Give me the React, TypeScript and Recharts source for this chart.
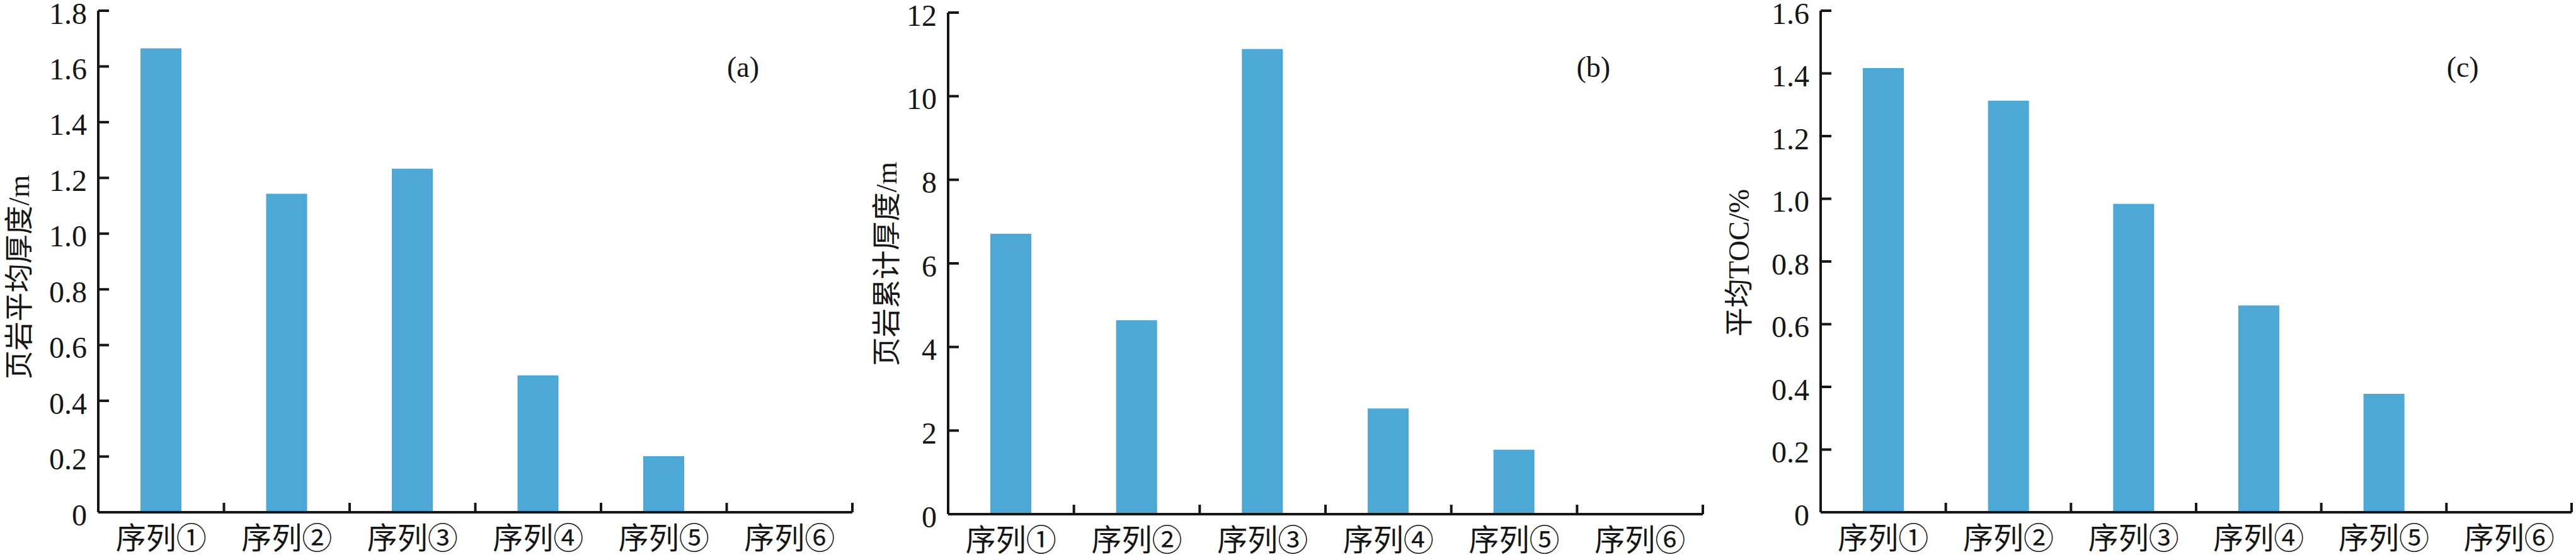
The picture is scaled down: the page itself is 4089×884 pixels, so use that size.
import React from 'react';
import { BarChart, Bar, XAxis, YAxis, ReferenceLine } from 'recharts';

const categories = ['序列①', '序列②', '序列③', '序列④', '序列⑤', '序列⑥'];

const avgThickness = [1.665, 1.143, 1.233, 0.491, 0.201, 0];
const totalThickness = [6.71, 4.64, 11.13, 2.53, 1.54, 0];
const avgToc = [1.417, 1.313, 0.984, 0.66, 0.378, 0];

const ticksA = [0, 0.2, 0.4, 0.6, 0.8, 1.0, 1.2, 1.4, 1.6, 1.8];
const ticksB = [0, 2, 4, 6, 8, 10, 12];
const ticksC = [0, 0.2, 0.4, 0.6, 0.8, 1.0, 1.2, 1.4, 1.6];

const SERIF = "'Liberation Serif', 'Times New Roman', serif";
const CJK = "'Liberation Serif', 'Noto Sans CJK SC', serif";
const BLUE = '#4ea8d5';
const INK = '#161616';
const FS = 48;

const fmtDec = (v: number) => (v === 0 ? '0' : v.toFixed(1));
const fmtInt = (v: number) => String(v);

const YTitle = ({ text, cx, cy }: { text: string; cx: number; cy: number }) => (
  <text
    x={cx}
    y={cy}
    transform={`rotate(-90, ${cx}, ${cy})`}
    textAnchor="middle"
    dominantBaseline="central"
    fontSize={46}
    fontFamily={CJK}
    fill={INK}
  >
    {text}
  </text>
);

type PanelProps = {
  values: number[];
  ticks: number[];
  fmt: (v: number) => string;
  title: string;
  tag: string;
  left: number;
  plotLeft: number;
  plotRight: number;
  top: number;
  base: number;
  titleX: number;
  titleY: number;
};

const Panel: React.FC<PanelProps> = ({ values, ticks, fmt, title, tag, left, plotLeft, plotRight, top, base, titleX, titleY }) => {
  const data = categories.map((name, i) => ({ name, value: values[i] }));
  const width = plotRight - left + 6;
  const yw = 100;
  const xh = 60;
  const max = ticks[ticks.length - 1];
  const axisX = plotLeft - left;
  const band = (plotRight - plotLeft) / categories.length;

  const yTick = (p: any) => (
    <text x={p.x} y={p.y + 4} textAnchor="end" dominantBaseline="central" fontSize={FS} fontFamily={SERIF} fill={INK}>
      {fmt(p.payload.value)}
    </text>
  );

  // x tick: label under the category, mark at the right edge of each category
  const xTick = (p: any) => (
    <g>
      <line x1={p.x + band / 2} x2={p.x + band / 2} y1={base} y2={base - 15} stroke={INK} strokeWidth={4} />
      <text x={p.x} y={base + 58} textAnchor="middle" fontSize={FS} fontFamily={CJK} fill={INK}>
        {p.payload.value}
      </text>
    </g>
  );

  return (
    <div style={{ position: 'absolute', left, top: 0, width, height: 884 }}>
      <BarChart
        width={width}
        height={884}
        data={data}
        margin={{ top, right: width - (plotRight - left), left: plotLeft - left - yw, bottom: 884 - base - xh }}
      >
        <XAxis
          dataKey="name"
          height={xh}
          tickLine={false}
          tickSize={0}
          axisLine={{ stroke: INK, strokeWidth: 4 }}
          tick={xTick}
          interval={0}
        />
        <YAxis
          type="number"
          domain={[0, max]}
          ticks={ticks}
          width={yw}
          tickLine={false}
          tickSize={0}
          tickMargin={18}
          axisLine={{ stroke: INK, strokeWidth: 4 }}
          tick={yTick}
          label={<YTitle text={title} cx={titleX - left} cy={titleY} />}
        />
        {/* short inward y ticks: only the first 17px of each line is drawn */}
        {ticks.slice(1).map((t) => (
          <ReferenceLine
            key={t}
            y={t}
            stroke={INK}
            strokeWidth={4}
            strokeDasharray="17 100000"
            ifOverflow="visible"
          />
        ))}
        <Bar dataKey="value" fill={BLUE} barSize={65} isAnimationActive={false} />
      </BarChart>
      <div
        style={{
          position: 'absolute',
          left: axisX + (plotRight - plotLeft) * 0.855 - 60,
          top: 80,
          width: 120,
          textAlign: 'center',
          fontSize: 46,
          fontFamily: SERIF,
          color: INK,
          lineHeight: '54px',
        }}
      >
        {tag}
      </div>
    </div>
  );
};

const App: React.FC = () => {
  return (
    <div style={{ position: 'absolute', left: 0, top: 0, width: 4089, height: 884, background: '#fff' }}>
      <Panel values={avgThickness} ticks={ticksA} fmt={fmtDec} title="页岩平均厚度/m" tag="(a)"
        left={0} plotLeft={156} plotRight={1353} top={17} base={813} titleX={30} titleY={440} />
      <Panel values={totalThickness} ticks={ticksB} fmt={fmtInt} title="页岩累计厚度/m" tag="(b)"
        left={1365} plotLeft={1505} plotRight={2703} top={20} base={816} titleX={1407} titleY={419} />
      <Panel values={avgToc} ticks={ticksC} fmt={fmtDec} title="平均TOC/%" tag="(c)"
        left={2735} plotLeft={2890} plotRight={4082} top={17} base={813} titleX={2760} titleY={417} />
    </div>
  );
};

export default App;
